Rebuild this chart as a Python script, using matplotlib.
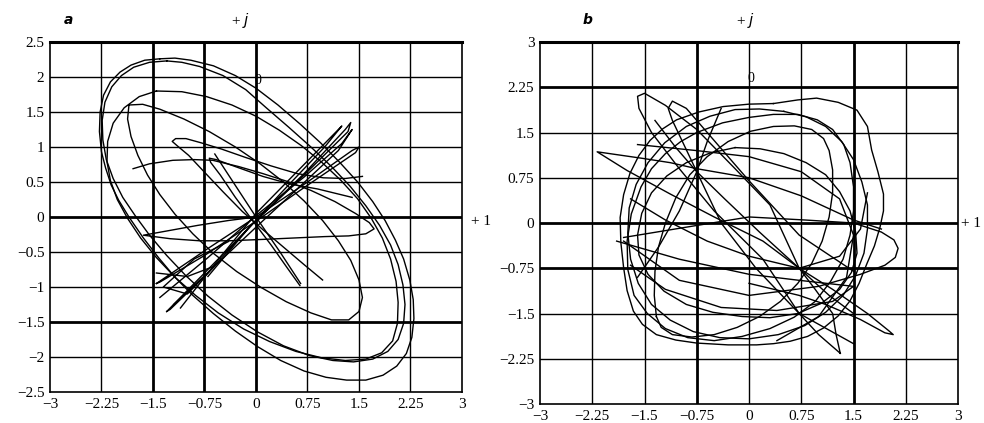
import matplotlib
matplotlib.use("Agg")
import matplotlib.pyplot as plt

# ---------------- data ----------------
ticks_a_x = [-3, -2.25, -1.5, -0.75, 0, 0.75, 1.5, 2.25, 3]
ticks_a_y = [-2.5, -2, -1.5, -1, -0.5, 0, 0.5, 1, 1.5, 2, 2.5]
ticks_b_x = [-3, -2.25, -1.5, -0.75, 0, 0.75, 1.5, 2.25, 3]
ticks_b_y = [-3, -2.25, -1.5, -0.75, 0, 0.75, 1.5, 2.25, 3]

# panel a trajectories (x, y)
a_outer = [(-1.40, 2.26), (-1.62, 2.24), (-1.82, 2.17), (-1.98, 2.07), (-2.12, 1.93),
           (-2.22, 1.74), (-2.27, 1.50), (-2.28, 1.22), (-2.25, 0.93), (-2.19, 0.70),
           (-2.11, 0.46), (-2.00, 0.24), (-1.85, 0.00), (-1.64, -0.30), (-1.42, -0.58),
           (-1.18, -0.86), (-0.92, -1.12), (-0.62, -1.38), (-0.30, -1.63), (0.02, -1.85),
           (0.36, -2.05), (0.70, -2.20), (1.02, -2.29), (1.32, -2.33), (1.60, -2.33),
           (1.85, -2.26), (2.05, -2.13), (2.19, -1.95), (2.27, -1.72), (2.30, -1.45),
           (2.29, -1.18), (2.24, -0.90), (2.15, -0.60), (2.03, -0.33), (1.88, -0.05),
           (1.70, 0.22), (1.48, 0.50), (1.22, 0.78), (0.94, 1.06), (0.64, 1.33),
           (0.32, 1.60), (0.00, 1.84), (-0.30, 2.02), (-0.62, 2.16), (-0.95, 2.24),
           (-1.18, 2.27), (-1.40, 2.26)]
a_outer2 = [(-1.30, 2.23), (-1.55, 2.21), (-1.78, 2.14), (-1.96, 2.02), (-2.10, 1.86),
            (-2.20, 1.64), (-2.24, 1.38), (-2.23, 1.10), (-2.18, 0.82), (-2.08, 0.55),
            (-1.94, 0.28), (-1.76, 0.02), (-1.55, -0.26), (-1.30, -0.55), (-1.02, -0.84),
            (-0.70, -1.13), (-0.35, -1.40), (0.02, -1.64), (0.40, -1.84), (0.78, -1.98),
            (1.12, -2.05), (1.42, -2.07), (1.70, -2.03), (1.92, -1.92), (2.07, -1.75),
            (2.15, -1.52), (2.17, -1.25), (2.14, -0.97), (2.07, -0.68), (1.96, -0.40),
            (1.80, -0.12), (1.60, 0.16), (1.37, 0.44), (1.10, 0.72), (0.80, 1.00),
            (0.48, 1.28), (0.15, 1.56), (-0.15, 1.82), (-0.48, 2.02), (-0.82, 2.15),
            (-1.08, 2.21), (-1.30, 2.23)]
a_mid = [(-1.45, 1.80), (-1.70, 1.72), (-1.92, 1.56), (-2.08, 1.34), (-2.16, 1.08),
         (-2.17, 0.79), (-2.12, 0.52), (-2.02, 0.25), (-1.87, -0.02), (-1.68, -0.30),
         (-1.45, -0.58), (-1.18, -0.86), (-0.88, -1.12), (-0.55, -1.37), (-0.18, -1.60),
         (0.20, -1.78), (0.58, -1.92), (0.95, -2.01), (1.30, -2.05), (1.60, -2.03),
         (1.83, -1.94), (1.99, -1.77), (2.06, -1.52), (2.07, -1.22), (2.04, -0.92),
         (1.96, -0.60), (1.84, -0.30), (1.68, -0.02), (1.48, 0.26), (1.24, 0.52),
         (0.96, 0.78), (0.66, 1.02), (0.34, 1.24), (0.00, 1.44), (-0.35, 1.60),
         (-0.72, 1.72), (-1.08, 1.79), (-1.45, 1.80)]
a_inner = [(-1.85, 1.60), (-1.87, 1.40), (-1.82, 1.15), (-1.72, 0.88), (-1.58, 0.60),
           (-1.40, 0.32), (-1.18, 0.04), (-0.92, -0.24), (-0.62, -0.52), (-0.28, -0.78),
           (0.08, -1.01), (0.44, -1.21), (0.80, -1.37), (1.10, -1.47), (1.35, -1.47),
           (1.50, -1.35), (1.55, -1.15), (1.50, -0.90), (1.38, -0.62), (1.20, -0.34),
           (0.97, -0.05), (0.70, 0.23), (0.40, 0.50), (0.06, 0.76), (-0.30, 1.00),
           (-0.68, 1.22), (-1.05, 1.40), (-1.40, 1.54), (-1.65, 1.61), (-1.85, 1.60)]
a_narrow = [(0.97, -0.90), (0.70, -0.68), (0.40, -0.43), (0.10, -0.18), (-0.20, 0.08),
            (-0.48, 0.36), (-0.75, 0.64), (-0.98, 0.88), (-1.15, 1.02), (-1.22, 1.08),
            (-1.17, 1.12), (-1.02, 1.12), (-0.80, 1.06), (-0.50, 0.97), (-0.15, 0.85),
            (0.22, 0.73), (0.60, 0.62), (0.98, 0.56), (1.30, 0.55), (1.55, 0.58)]
a_narrow2 = [(0.64, -0.98), (0.45, -0.72), (0.22, -0.40), (-0.05, -0.05), (-0.30, 0.28),
             (-0.52, 0.60), (-0.66, 0.78), (-0.68, 0.84), (-0.58, 0.82), (-0.30, 0.72),
             (0.10, 0.58), (0.50, 0.47), (0.90, 0.40), (1.40, 0.28)]
a_flat = [(-1.79, 0.69), (-1.55, 0.76), (-1.21, 0.81), (-0.90, 0.82), (-0.63, 0.81),
          (-0.25, 0.72), (0.10, 0.62), (0.45, 0.51), (0.80, 0.38), (1.15, 0.22),
          (1.45, 0.05), (1.65, -0.08), (1.72, -0.17), (1.60, -0.24), (1.35, -0.27),
          (1.00, -0.28), (0.55, -0.30), (0.10, -0.32), (-0.40, -0.34), (-0.82, -0.34),
          (-1.25, -0.31), (-1.64, -0.26), (-1.30, -0.20), (-0.85, -0.12), (-0.40, -0.05),
          (0.00, 0.00)]
a_diag1 = [(-1.30, -1.35), (-0.65, -0.70), (0.00, -0.05), (0.70, 0.62), (1.30, 1.25),
           (1.38, 1.35), (1.34, 1.22), (0.65, 0.55), (-0.05, -0.10), (-0.70, -0.80),
           (-1.25, -1.32), (-1.30, -1.35)]
a_diag2 = [(-1.45, -0.95), (-0.70, -0.45), (0.00, 0.00), (0.75, 0.50), (1.40, 0.95),
           (1.50, 1.00), (1.45, 0.92), (0.70, 0.42), (0.00, -0.06), (-0.75, -0.55),
           (-1.40, -0.93), (-1.45, -0.95)]
a_diag3 = [(-1.40, -1.15), (-0.70, -0.58), (0.00, 0.02), (0.70, 0.57), (1.25, 1.05),
           (1.40, 1.25), (1.20, 0.95), (0.60, 0.40), (0.05, -0.10), (-0.60, -0.70),
           (-1.20, -1.25)]
a_diag4 = [(-1.10, -1.30), (-0.50, -0.55), (0.00, 0.05), (0.55, 0.60), (1.10, 1.15),
           (1.25, 1.30), (1.00, 1.00), (0.40, 0.38), (-0.10, -0.15), (-0.70, -0.85)]
a_cross = [(-0.60, 0.90), (-0.30, 0.45), (0.00, 0.00), (0.35, -0.50), (0.65, -0.95)]
a_cross2 = [(-1.45, -0.80), (-1.00, -0.85), (-0.60, -0.70), (-1.00, -1.10), (-1.35, -1.00),
            (-0.90, -0.60), (-0.40, -0.35)]

# panel b trajectories (x, y)
b_ring1 = [(0.35, 1.98), (0.70, 2.04), (0.97, 2.07), (1.28, 2.00), (1.55, 1.87),
           (1.70, 1.60), (1.76, 1.21), (1.85, 0.85), (1.93, 0.48), (1.93, 0.20),
           (1.88, -0.07), (1.80, -0.38), (1.69, -0.68), (1.58, -1.00), (1.45, -1.29),
           (1.28, -1.54), (1.07, -1.74), (0.84, -1.88), (0.59, -1.96), (0.35, -2.00),
           (0.11, -2.02), (-0.30, -2.02), (-0.75, -1.99), (-1.05, -1.94), (-1.33, -1.85),
           (-1.53, -1.68), (-1.66, -1.46), (-1.75, -1.12), (-1.80, -0.74), (-1.84, -0.32),
           (-1.85, 0.09), (-1.80, 0.47), (-1.71, 0.82), (-1.58, 1.12), (-1.42, 1.37),
           (-1.24, 1.56), (-1.04, 1.71), (-0.72, 1.84), (-0.37, 1.93), (0.00, 1.97),
           (0.35, 1.98)]
b_ring2 = [(0.50, 1.85), (0.82, 1.76), (1.10, 1.60), (1.33, 1.35), (1.50, 1.05),
           (1.62, 0.68), (1.70, 0.30), (1.70, -0.10), (1.65, -0.50), (1.53, -0.87),
           (1.35, -1.20), (1.10, -1.48), (0.80, -1.70), (0.42, -1.85), (0.00, -1.92),
           (-0.42, -1.90), (-0.80, -1.80), (-1.13, -1.61), (-1.40, -1.35), (-1.59, -1.00),
           (-1.70, -0.60), (-1.74, -0.17), (-1.72, 0.25), (-1.62, 0.64), (-1.45, 1.00),
           (-1.21, 1.33), (-0.90, 1.60), (-0.56, 1.77), (-0.20, 1.88), (0.15, 1.89),
           (0.50, 1.85)]
b_ring3 = [(-0.20, 1.25), (0.16, 1.23), (0.50, 1.15), (0.82, 1.00), (1.10, 0.80),
           (1.30, 0.52), (1.45, 0.20), (1.53, -0.15), (1.55, -0.50), (1.47, -0.82),
           (1.30, -1.10), (1.04, -1.33), (0.70, -1.50), (0.30, -1.57), (-0.10, -1.55),
           (-0.52, -1.48), (-0.90, -1.35), (-1.22, -1.13), (-1.45, -0.85), (-1.58, -0.53),
           (-1.60, -0.20), (-1.54, 0.16), (-1.40, 0.50), (-1.18, 0.78), (-0.90, 1.00),
           (-0.56, 1.16), (-0.20, 1.25)]
b_ring4 = [(-1.33, -1.55), (-1.36, -1.20), (-1.35, -0.80), (-1.30, -0.40), (-1.20, 0.00),
           (-1.05, 0.42), (-0.85, 0.80), (-0.60, 1.10), (-0.30, 1.35), (0.02, 1.52),
           (0.35, 1.60), (0.65, 1.61), (0.90, 1.55), (1.07, 1.40), (1.15, 1.20),
           (1.20, 0.88), (1.20, 0.50), (1.15, 0.10), (1.05, -0.30), (0.90, -0.67),
           (0.70, -1.00), (0.45, -1.30), (0.15, -1.55), (-0.17, -1.73), (-0.50, -1.85),
           (-0.82, -1.89), (-1.10, -1.85), (-1.26, -1.73), (-1.33, -1.55)]
b_ring5 = [(-0.75, 1.50), (-0.38, 1.66), (0.00, 1.75), (0.35, 1.80), (0.70, 1.80),
           (0.98, 1.71), (1.20, 1.55), (1.36, 1.30), (1.45, 1.00), (1.50, 0.60),
           (1.50, 0.20), (1.45, -0.20), (1.35, -0.60), (1.17, -0.97), (0.95, -1.30),
           (0.65, -1.56), (0.30, -1.75), (-0.10, -1.88), (-0.50, -1.95), (-0.88, -1.90),
           (-1.20, -1.75), (-1.46, -1.50), (-1.65, -1.20), (-1.74, -0.77), (-1.75, -0.30),
           (-1.69, 0.15), (-1.55, 0.60), (-1.40, 0.90), (-1.20, 1.15), (-0.98, 1.35),
           (-0.75, 1.50)]
b_spike_l = [(1.90, -0.10), (1.50, 0.05), (0.75, 0.45), (0.00, 0.75), (-0.75, 0.90),
             (-1.13, 1.00), (-1.52, 1.07), (-2.18, 1.18), (-1.75, 0.87), (-1.13, 0.48),
             (-0.50, 0.10), (0.20, -0.30), (0.72, -0.75), (1.20, -1.10), (1.70, -1.50),
             (2.00, -1.78), (2.07, -1.85), (1.95, -1.82), (1.60, -1.60), (1.10, -1.35),
             (0.72, -1.20), (0.00, -1.00)]
b_spike_tl = [(1.31, -2.16), (1.25, -1.85), (1.20, -1.50), (0.95, -1.10), (0.72, -0.75),
              (0.30, 0.30), (-0.20, 0.90), (-0.75, 1.55), (-1.20, 1.95), (-1.50, 2.15),
              (-1.60, 2.10), (-1.58, 1.90), (-1.40, 1.50), (-1.00, 0.90), (-0.50, 0.20),
              (0.20, -0.60), (0.72, -1.50), (1.00, -1.85), (1.20, -2.05), (1.31, -2.16)]
b_spike_t = [(1.50, -0.80), (0.72, -0.20), (0.00, 0.70), (-0.60, 1.50), (-0.90, 1.90),
             (-1.10, 2.02), (-1.16, 1.90), (-1.10, 1.70), (-0.75, 0.85), (-0.40, 0.00),
             (0.10, -0.75), (0.72, -1.50), (1.50, -2.00)]
b_spike_r = [(-1.80, -0.30), (-1.00, -0.95), (0.00, -1.20), (1.00, -1.05), (1.60, -0.85),
             (1.95, -0.70), (2.10, -0.57), (2.14, -0.42), (2.08, -0.28), (1.90, -0.15),
             (1.50, 0.00), (0.80, 0.05), (0.00, 0.10), (-0.80, -0.05), (-1.80, -0.24)]
b_lines = [(-1.90, -0.30), (-1.00, -0.60), (0.00, -0.85), (0.72, -0.95), (1.50, -1.05),
           (1.20, -1.30), (0.40, -1.45), (-0.40, -1.40), (-1.20, -1.10), (-1.70, -0.70)]
b_lines2 = [(-1.60, 1.30), (-0.75, 1.20), (0.00, 1.10), (0.75, 0.85), (1.30, 0.40),
            (1.50, -0.20), (1.40, -0.90), (1.00, -1.55), (0.40, -1.95)]
b_diag1 = [(-1.35, 1.70), (-1.05, 1.25), (-0.75, 0.85), (-0.35, 0.40), (0.15, -0.15),
           (0.72, -0.75), (1.15, -1.20), (1.50, -1.50)]
b_diag2 = [(-0.40, 1.90), (-0.60, 1.35), (-0.75, 0.85), (-1.00, 0.20), (-1.30, -0.40),
           (-1.60, -0.90)]
b_diag3 = [(-1.70, 0.40), (-1.20, 0.05), (-0.60, -0.30), (0.00, -0.55), (0.72, -0.75),
           (1.30, -0.55), (1.60, -0.10), (1.70, 0.50)]

panel_a = [a_outer, a_outer2, a_mid, a_inner, a_narrow, a_narrow2, a_flat,
           a_diag1, a_diag2, a_diag3, a_diag4, a_cross, a_cross2]
panel_b = [b_ring1, b_ring2, b_ring3, b_ring4, b_ring5, b_spike_l, b_spike_tl,
           b_spike_t, b_spike_r, b_lines, b_lines2, b_diag1, b_diag2, b_diag3]

thick_a_x = [-1.5, -0.75, 0]
thick_a_y = [0, -1.5]
thick_b_x = [-0.75, 1.5]
thick_b_y = [2.25, 0, -0.75]

# ---------------- figure ----------------
plt.rcParams['font.family'] = ['Liberation Serif', 'DejaVu Serif']
fig = plt.figure(figsize=(9.84, 4.23), dpi=100)
ax_a = fig.add_axes([0.0508, 0.0733, 0.4187, 0.8274])
ax_b = fig.add_axes([0.5488, 0.0449, 0.4248, 0.8558])


def fmt(v):
    s = ('%g' % abs(v))
    return ('\u2212' + s) if v < 0 else s


def setup(ax, xt, yt, thx, thy, xlim, ylim):
    ax.set_xlim(*xlim)
    ax.set_ylim(*ylim)
    ax.set_xticks(xt)
    ax.set_yticks(yt)
    ax.set_xticklabels([fmt(v) for v in xt])
    ax.set_yticklabels([fmt(v) for v in yt])
    ax.tick_params(length=0, labelsize=11, pad=4, colors='black')
    for v in xt[1:-1]:
        ax.axvline(v, color='black', lw=2.0 if v in thx else 1.0, zorder=1)
    for v in yt[1:-1]:
        ax.axhline(v, color='black', lw=2.0 if v in thy else 1.0, zorder=1)
    for side in ['left', 'right', 'bottom']:
        ax.spines[side].set_linewidth(1.2)
    ax.spines['top'].set_linewidth(2.2)


setup(ax_a, ticks_a_x, ticks_a_y, thick_a_x, thick_a_y, (-3, 3), (-2.5, 2.5))
setup(ax_b, ticks_b_x, ticks_b_y, thick_b_x, thick_b_y, (-3, 3), (-3, 3))

for ax, curves in [(ax_a, panel_a), (ax_b, panel_b)]:
    for c in curves:
        xs = [p[0] for p in c]
        ys = [p[1] for p in c]
        ax.plot(xs, ys, color='black', lw=1.0, zorder=3, solid_joinstyle='round')

# annotations
fig.text(68 / 984, 1 - 20 / 423, 'a', fontsize=10, style='italic', weight='bold',
         family='DejaVu Sans', ha='center', va='center')
fig.text(240 / 984, 1 - 20 / 423, '+ $j$', fontsize=11, ha='center', va='center')
fig.text(588 / 984, 1 - 20 / 423, 'b', fontsize=10, style='italic', weight='bold',
         family='DejaVu Sans', ha='center', va='center')
fig.text(745 / 984, 1 - 20 / 423, '+ $j$', fontsize=11, ha='center', va='center')
fig.text(481 / 984, 1 - 221 / 423, '+ 1', fontsize=11, ha='center', va='center')
fig.text(971 / 984, 1 - 223 / 423, '+ 1', fontsize=11, ha='center', va='center')
ax_a.text(0.03, 1.95, '0', fontsize=10, ha='center', va='center', zorder=4)
ax_b.text(0.03, 2.4, '0', fontsize=10, ha='center', va='center', zorder=4)

fig.savefig('out.png', dpi=100, facecolor='white')
